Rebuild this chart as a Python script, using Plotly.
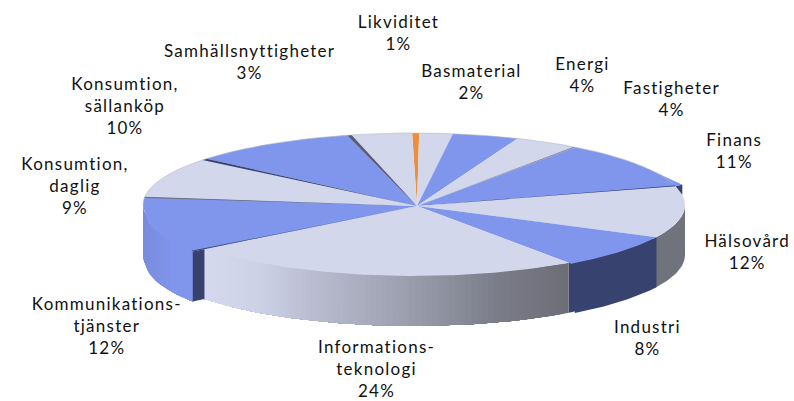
import math
import plotly.graph_objects as go

categories = ["Likviditet", "Basmaterial", "Energi", "Fastigheter", "Finans", "Hälsovård",
              "Industri", "Informationsteknologi", "Kommunikationstjänster",
              "Konsumtion, daglig", "Konsumtion, sällanköp", "Samhällsnyttigheter"]
values = [1, 2, 4, 4, 11, 12, 8, 24, 12, 9, 10, 3]
label_names = ["Likviditet", "Basmaterial", "Energi", "Fastigheter", "Finans", "Hälsovård",
               "Industri", "Informations-<br>teknologi", "Kommunikations-<br>tjänster",
               "Konsumtion,<br>daglig", "Konsumtion,<br>sällanköp", "Samhällsnyttigheter"]

# geometry of the projected disc (pixels, the axes map 1:1 to the window)
AX, AY = 417, 206           # apex where the slices meet
CX, CY, RX, RY, DEPTH = 414, 205, 271, 72, 50
START = -2.5
WARP = 2.2                  # perspective: near side of the disc is stretched
FAR_EDGE = -0.4             # far edge squeezes the first slice
IT_SCALE = 0.985

BLUE, LIGHT, ORANGE = "#8096EC", "#D2D7EC", "#E9903E"
top_colors = [ORANGE, LIGHT, BLUE, LIGHT, BLUE, LIGHT, BLUE, LIGHT, BLUE, LIGHT, BLUE, LIGHT]
NAVY = "#38426F"
GREY = "#70727C"


def warp(t):
    return t - WARP * (1 - math.cos(math.radians(t)))


def rim(t, s=1.0):
    r = math.radians(t)
    return CX + s * RX * math.sin(r), CY - s * RY * math.cos(r)


def arc(a, b, step=1.0):
    n = max(2, int(abs(b - a) / step) + 1)
    return [a + (b - a) * i / (n - 1) for i in range(n)]


def mix(c1, c2, f):
    p = [int(c1[i:i + 2], 16) for i in (1, 3, 5)]
    q = [int(c2[i:i + 2], 16) for i in (1, 3, 5)]
    return "#%02x%02x%02x" % tuple(round(u + (v - u) * f) for u, v in zip(p, q))


def poly(fig, pts, color):
    fig.add_trace(go.Scatter(
        x=[p[0] for p in pts] + [pts[0][0]], y=[p[1] for p in pts] + [pts[0][1]],
        mode="lines", fill="toself", fillcolor=color,
        line=dict(color=color, width=0), hoverinfo="skip", showlegend=False))


# slice boundaries from the values
cum = [0]
for v in values:
    cum.append(cum[-1] + v)
bounds = [warp(c * 3.6) + START for c in cum]
bounds[0] = FAR_EDGE
bounds[-1] = 360 + FAR_EDGE
idx = {c: i for i, c in enumerate(categories)}
i_fin, i_hal, i_ind, i_it, i_kom = (idx["Finans"], idx["Hälsovård"], idx["Industri"],
                                     idx["Informationsteknologi"], idx["Kommunikationstjänster"])


# Kommunikationstjänster sticks out a little past its neighbour at the front end
def kom_scale(t):
    a = bounds[i_kom]
    return 1.0 + 0.04 * max(0.0, 1 - (t - a) / 30.0)


fig = go.Figure()


def solid_wall(a, b, color, s=1.0):
    ts = arc(a, b, 1.0)
    tops = [rim(t, s) for t in ts]
    poly(fig, tops + [(x, y + DEPTH) for x, y in reversed(tops)], color)


def shaded_wall(a, b, colfn, step, sfn):
    # each band reaches to the far end, so that the next band paints over it without seams
    ts = arc(a, b, step)
    for k in range(len(ts) - 1):
        tops = [rim(t, sfn(t)) for t in ts[k:]]
        x = (tops[0][0] + tops[1][0]) / 2
        poly(fig, tops + [(px, py + DEPTH) for px, py in reversed(tops)], colfn(x))


# side walls, back to front (Hälsovård and Industri run on a little under their neighbours)
solid_wall(90, bounds[i_hal + 1] + 1, GREY)
solid_wall(bounds[i_ind], bounds[i_ind + 1], NAVY, s=IT_SCALE)
solid_wall(bounds[i_ind], bounds[i_ind + 1] - 1, NAVY)
shaded_wall(270, bounds[i_kom], lambda x: mix("#7A8BDD", "#8096EC", min(1, (x - 143) / 30)), 2.0, kom_scale)


def it_col(x):
    stops = [(205, "#D4D9EF"), (260, "#CDD1E6"), (320, "#B6BACD"), (400, "#9DA1B0"),
             (500, "#7A7C88"), (570, "#6C6D77")]
    for (x0, c0), (x1, c1) in zip(stops[:-1], stops[1:]):
        if x <= x1:
            return mix(c0, c1, max(0, (x - x0) / (x1 - x0)))
    return stops[-1][1]


shaded_wall(bounds[i_it], bounds[i_it + 1], it_col, 1.2, lambda t: IT_SCALE)

# radial face of Kommunikationstjänster showing past the next slice
kp, ip = rim(bounds[i_kom], kom_scale(bounds[i_kom])), rim(bounds[i_kom], IT_SCALE)
poly(fig, [kp, ip, (ip[0], ip[1] + DEPTH), (kp[0], kp[1] + DEPTH)], NAVY)

# top faces
apex = (AX, AY)
for i in range(len(values)):
    if i == i_kom:
        pts = [apex] + [rim(t, kom_scale(t)) for t in arc(bounds[i], bounds[i + 1])]
    elif i == i_it:
        pts = [apex] + [rim(t, IT_SCALE) for t in arc(bounds[i], bounds[i + 1])]
    elif i == i_ind:
        # this slice meets the slightly smaller next slice exactly
        ts_ = arc(bounds[i], bounds[i + 1])
        pts = [apex] + [rim(t) for t in ts_] + [rim(bounds[i + 1], IT_SCALE)]
    elif i == i_fin:
        # Finans bulges slightly at its far right end
        tip = rim(bounds[i + 1] + 7)
        tip = (tip[0], tip[1] - 10)
        pts = [apex] + [rim(t) for t in arc(bounds[i], bounds[i + 1] - 14)] + [tip, rim(bounds[i + 1])]
    else:
        pts = [apex] + [rim(t) for t in arc(bounds[i], bounds[i + 1])]
    poly(fig, pts, top_colors[i])

# dark edges between slices: boundary index, colour, angular width
edges = [(i_fin, "#8A8E9E", 0.5), (i_hal, NAVY, 0.7),
         (idx["Konsumtion, daglig"], "#6E7284", 1.0),
         (idx["Konsumtion, sällanköp"], NAVY, 1.3),
         (idx["Samhällsnyttigheter"], "#5A5E6C", 0.9)]
for b, col, w in edges:
    poly(fig, [apex, rim(bounds[b] - w), rim(bounds[b])], col)
poly(fig, [apex, kp, rim(bounds[i_kom] + 0.5, kom_scale(bounds[i_kom]))], NAVY)

# small dark face at the end of Finans
e = bounds[i_hal]
low = rim(e + 7)
poly(fig, [rim(e), (low[0], low[1] - 10), low], NAVY)

# thin rim highlight along the far edge
back = arc(270, 360 + bounds[i_fin + 1] - 2, 1.0)
fig.add_trace(go.Scatter(x=[rim(t)[0] for t in back], y=[rim(t)[1] for t in back], mode="lines",
                         line=dict(color="#B4B7C4", width=0.6), hoverinfo="skip", showlegend=False))

# labels: centre x, centre y of the block
centres = {
    "Likviditet": (398, 32), "Basmaterial": (471, 81), "Energi": (582, 74),
    "Fastigheter": (672, 98), "Finans": (734, 150), "Hälsovård": (747, 251),
    "Industri": (647, 337), "Informationsteknologi": (376, 368),
    "Kommunikationstjänster": (107, 325), "Konsumtion, daglig": (75, 185),
    "Konsumtion, sällanköp": (125, 105), "Samhällsnyttigheter": (250, 61),
}
FONT = dict(family="Lato, Carlito, Arial, sans-serif", size=17, color="#111111")
anns = []
for cat, name, val in zip(categories, label_names, values):
    x, y = centres[cat]
    anns.append(dict(x=x, y=y, text=f"{name}<br>{val}%", align="center",
                     xanchor="center", yanchor="middle", xref="x", yref="y",
                     showarrow=False, font=FONT, borderpad=0))

fig.update_layout(
    width=794, height=401, margin=dict(l=0, r=0, t=0, b=0),
    paper_bgcolor="white", plot_bgcolor="white", showlegend=False, annotations=anns,
    xaxis=dict(range=[0, 794], visible=False, fixedrange=True),
    yaxis=dict(range=[401, 0], visible=False, fixedrange=True),
)
css = ".annotation-text{letter-spacing:1.25px;font-variant-ligatures:none;}"
fig.write_html("out.html", config={"displayModeBar": False},
               post_script=("document.body.style.margin='0';"
                            "document.documentElement.style.overflow='hidden';"
                            "var s=document.createElement('style');s.textContent='" + css + "';"
                            "document.head.appendChild(s);"))
